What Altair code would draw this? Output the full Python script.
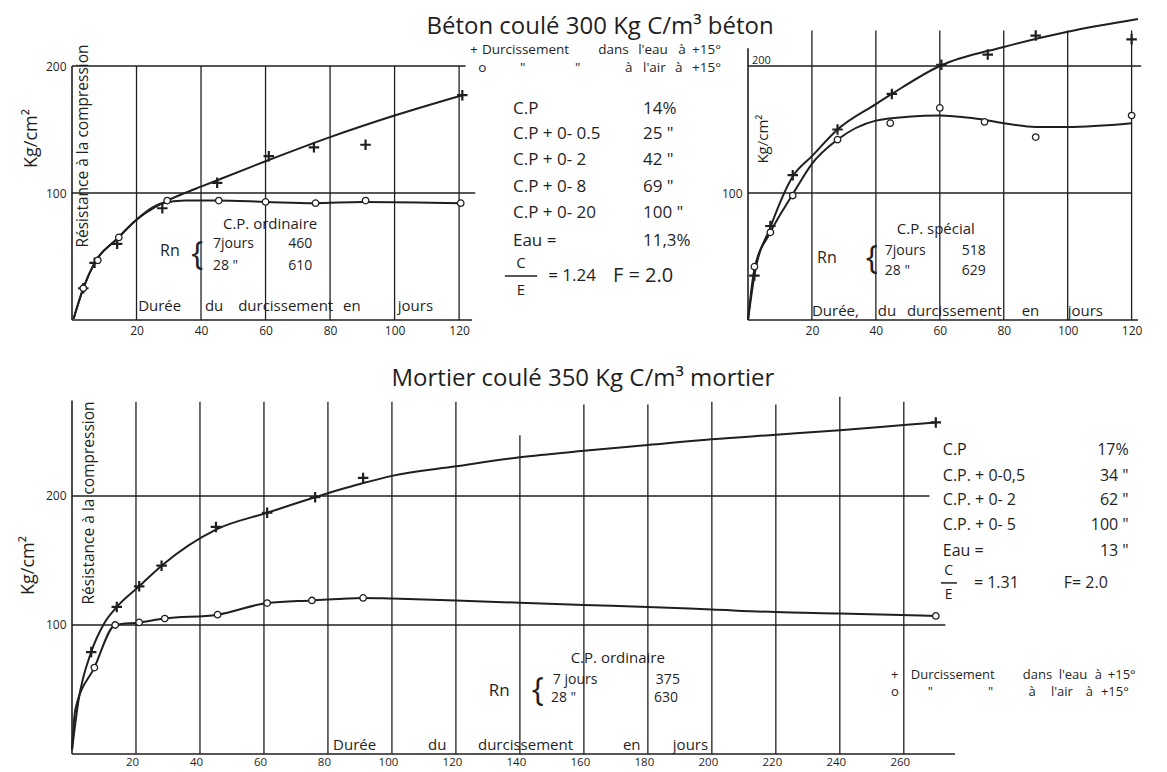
import altair as alt
import pandas as pd

FONT = "Open Sans"
INK = "#1f1f1f"

# ---------------- values ----------------
# Top left: Béton coulé, C.P. ordinaire
tl_eau_days = [3.5, 7, 14, 28, 45, 61, 75, 91, 121]
tl_eau_res = [25, 45, 60, 88, 108, 129, 136, 138, 177]
tl_air_days = [3.5, 8, 14.5, 29.5, 45.5, 60, 75.5, 91, 120.5]
tl_air_res = [25, 47, 65, 94, 94, 93, 92, 94, 92]
tl_eau_curve_days = [0.5, 3.5, 7, 14, 20, 28, 35, 40, 60, 80, 100, 121]
tl_eau_curve_res = [1, 25, 45, 64, 79, 92, 100, 105, 125, 144, 161, 177]
tl_air_curve_days = [0.5, 3.5, 7, 14, 20, 28, 35, 45, 60, 75, 90, 121]
tl_air_curve_res = [1, 25, 45, 64, 79, 92, 94, 94, 93, 92, 93, 92]

# Top right: Béton coulé, C.P. spécial
tr_eau_days = [2, 7, 14, 28, 45, 60.5, 75, 90, 120]
tr_eau_res = [35, 74, 114, 150, 178, 201, 209, 224, 221]
tr_air_days = [2, 7, 14, 28, 44.5, 60, 74, 90, 120]
tr_air_res = [42, 69, 98, 142, 155, 167, 156, 144, 161]
tr_eau_curve_days = [0, 2, 7, 14, 20, 28, 40, 45, 60, 80, 100, 122]
tr_eau_curve_res = [0, 35, 73, 113, 129, 150, 170, 178, 200, 215, 227, 237]
tr_air_curve_days = [0, 2, 7, 14, 20, 28, 40, 50, 60, 70, 80, 90, 100, 120]
tr_air_curve_res = [0, 40, 69, 99, 123, 142, 157, 160, 161, 159, 155, 152, 152, 155]

# Bottom: Mortier coulé, C.P. ordinaire
bt_eau_days = [6, 14, 21, 28, 45, 61, 76, 91, 270]
bt_eau_res = [79, 114, 130, 146, 176, 187, 199, 214, 257]
bt_air_days = [7, 13.5, 21, 29, 45.5, 61, 75, 91, 270]
bt_air_res = [67, 100, 102, 105, 108, 117, 119, 121, 107]
bt_eau_curve_days = [0, 2, 6, 10, 14, 21, 28, 45, 61, 76, 91, 100, 120, 140,
                     160, 180, 200, 220, 240, 260, 270]
bt_eau_curve_res = [3, 41, 79, 101, 114, 130, 146, 174, 187, 199, 210, 215.6,
                    223, 230, 235, 239.5, 244, 247.5, 251, 255, 257]
bt_air_curve_days = [0, 1, 7, 13.5, 21, 29, 45.5, 61, 75, 91, 100, 120, 160,
                     180, 200, 220, 240, 270]
bt_air_curve_res = [3, 34, 67, 100, 102, 105, 108, 117, 119, 121, 120.5, 119,
                    115.5, 114, 112, 110, 109, 107]

# tick labels
tl_x_ticks = [20, 40, 60, 80, 100, 120]
tl_y_ticks = [100, 200]
tr_x_ticks = [20, 40, 60, 80, 100, 120]
tr_y_ticks = [100]
bt_x_ticks = [20, 40, 60, 80, 100, 120, 140, 160, 180, 200, 220, 240, 260]
bt_y_ticks = [100, 200]

# texts
title_beton = "Béton coulé 300 Kg C/m³ béton"
title_mortier = "Mortier coulé  350 Kg C/m³  mortier"
unit = "Kg/cm²"
resistance = "Résistance à la compression"
duree_words = ["Durée", "du", "durcissement", "en", "jours"]
duree_words_tr = ["Durée,", "du", "durcissement", "en", "jours"]
legend_eau = ["+", "Durcissement", "dans", "l'eau", "à", "+15°"]
legend_air = ["o", "\"", "\"", "à", "l'air", "à", "+15°"]
tl_mix_names = ["C.P", "C.P + 0- 0.5", "C.P + 0- 2", "C.P + 0- 8", "C.P + 0- 20", "Eau ="]
tl_mix_values = ["14%", "25 \"", "42 \"", "69 \"", "100 \"", "11,3%"]
tl_ratio = ["C", "E", "= 1.24", "F = 2.0"]
bt_mix_names = ["C.P", "C.P. + 0-0,5", "C.P. + 0- 2", "C.P. + 0- 5", "Eau ="]
bt_mix_values = ["17%", "34 \"", "62 \"", "100 \"", "13 \""]
bt_ratio = ["C", "E", "= 1.31", "F=  2.0"]
tl_cement = ["C.P. ordinaire", "Rn", "{", "7jours", "460", "28  \"", "610"]
tr_cement = ["C.P. spécial", "Rn", "{", "7jours", "518", "28  \"", "629"]
bt_cement = ["C.P. ordinaire", "Rn", "{", "7 jours", "375", "28   \"", "630"]


# ---------------- helpers ----------------
def encs(xdom, ydom, xticks, yticks, xlab_off, ytitle, tx, ty, lab_pad=5, lab_size=12):
    X = alt.X("x:Q", scale=alt.Scale(domain=xdom, nice=False, zero=False),
              axis=alt.Axis(values=xticks, domain=False, ticks=False, grid=False,
                            labelPadding=lab_pad, labelOffset=xlab_off, title=None,
                            labelFontSize=lab_size, labelFont=FONT, labelColor=INK))
    Y = alt.Y("y:Q", scale=alt.Scale(domain=ydom, nice=False, zero=False),
              axis=alt.Axis(values=yticks, domain=False, ticks=False, grid=False,
                            labelPadding=6, labelFontSize=12, labelFont=FONT,
                            labelColor=INK, title=ytitle, titleX=tx, titleY=ty,
                            titleAngle=270, titleAlign="center",
                            titleBaseline="middle", titleFont=FONT,
                            titleFontSize=18, titleFontWeight="normal",
                            titleColor=INK))
    return X, Y


def rules_v(xs, y0s, y1s, X, Y, w=1.3):
    df = pd.DataFrame({"x": xs, "y": y0s, "y2": y1s})
    return alt.Chart(df).mark_rule(color=INK, strokeWidth=w).encode(x=X, y=Y, y2="y2:Q")


def rules_h(ys, x0s, x1s, X, Y, w=1.3):
    df = pd.DataFrame({"y": ys, "x": x0s, "x2": x1s})
    return alt.Chart(df).mark_rule(color=INK, strokeWidth=w).encode(y=Y, x=X, x2="x2:Q")


def curves(ex, ey, ax, ay, X, Y):
    df = pd.DataFrame({"x": ex + ax, "y": ey + ay,
                       "s": ["eau"] * len(ex) + ["air"] * len(ax)})
    return alt.Chart(df).mark_line(color=INK, strokeWidth=2, interpolate="monotone").encode(
        x=X, y=Y, detail="s:N")


def pts_eau(xs, ys, X, Y):
    df = pd.DataFrame({"x": xs, "y": ys})
    return alt.Chart(df).mark_point(shape="M-1,0L1,0M0,-1L0,1", size=110, filled=False,
                                    color=INK, strokeWidth=2.2, opacity=1).encode(x=X, y=Y)


def pts_air(xs, ys, X, Y):
    df = pd.DataFrame({"x": xs, "y": ys})
    return alt.Chart(df).mark_point(shape="circle", size=42, filled=True, fill="white",
                                    stroke=INK, strokeWidth=1.3, opacity=1).encode(x=X, y=Y)


def texts(rows, X, Y):
    df = pd.DataFrame(rows, columns=["text", "x", "y", "size", "align", "angle"])
    out = []
    for a in ["left", "center", "right"]:
        sub = df[df["align"] == a]
        if len(sub):
            out.append(alt.Chart(sub).mark_text(align=a, baseline="middle", font=FONT,
                                                color=INK).encode(
                x=X, y=Y, text="text:N",
                size=alt.Size("size:Q", scale=None),
                angle=alt.Angle("angle:Q", scale=None)))
    return out


# ---------------- top left ----------------
X1, Y1 = encs([0, 124], [0, 237.8], tl_x_ticks, tl_y_ticks, 0, unit, -41, 120)
tl_rows = [
    (title_beton, 163.7, 230.5, 24, "center", 0),
    (resistance, 3.3, 137, 15.5, "center", 270),
    (tl_cement[0], 61.4, 75.6, 15, "center", 0),
    (tl_cement[1], 27.3, 54.3, 16, "left", 0),
    (tl_cement[2], 38.8, 51.2, 32, "center", 0),
    (tl_cement[3], 43.7, 59.8, 14, "left", 0),
    (tl_cement[4], 67, 59.8, 14, "left", 0),
    (tl_cement[5], 43.7, 42.5, 14, "left", 0),
    (tl_cement[6], 67, 42.5, 14, "left", 0),
    (tl_ratio[0], 139.2, 45.2, 15, "center", 0),
    (tl_ratio[1], 139.2, 23.6, 15, "center", 0),
    (tl_ratio[2], 147.6, 34.6, 17, "left", 0),
    (tl_ratio[3], 167.7, 34.6, 20, "left", 0),
]
# legend in the middle of the top row (TL coordinates)
for w, xx in zip(legend_eau, [123.4, 127.1, 163.1, 175.5, 187.9, 192.2]):
    tl_rows.append((w, xx, 212.6, 13.5, "left", 0))
for w, xx in zip(legend_air, [125.9, 138.9, 155.9, 171.4, 177, 186.9, 192.2]):
    tl_rows.append((w, xx, 198.4, 13.5, "left", 0))
for w, xx in zip(duree_words, [20.5, 41.2, 51.5, 84, 101]):
    tl_rows.append((w, xx, 11, 15, "left", 0))
for n, v, yy in zip(tl_mix_names, tl_mix_values, [166, 146.5, 126, 104.7, 84.3, 62.2]):
    tl_rows.append((n, 136.7, yy, 17, "left", 0))
    tl_rows.append((v, 177, yy, 17, "left", 0))

tl = alt.layer(
    rules_v(tl_x_ticks, [0] * 6, [200] * 6, X1, Y1),
    rules_h([100, 200], [0, 0], [125, 122], X1, Y1),
    rules_h([0], [0], [124], X1, Y1, 1.6),
    rules_v([0], [0], [200], X1, Y1, 1.6),
    rules_h([34.6], [134.2], [144.2], X1, Y1, 1.5),
    curves(tl_eau_curve_days, tl_eau_curve_res, tl_air_curve_days, tl_air_curve_res, X1, Y1),
    pts_eau(tl_eau_days, tl_eau_res, X1, Y1),
    pts_air(tl_air_days, tl_air_res, X1, Y1),
    *texts(tl_rows, X1, Y1),
).properties(width=400, height=302)

# ---------------- top right ----------------
X2, Y2 = encs([0, 122], [0, 237.8], tr_x_ticks, tr_y_ticks, 0, None, 0, 0)
tr_rows = [
    (unit, 4.7, 142.5, 15, "center", 270),
    ("200", 1.25, 204, 11, "left", 0),
    (tr_cement[0], 58.75, 71.7, 15, "center", 0),
    (tr_cement[1], 21.6, 48.8, 16, "left", 0),
    (tr_cement[2], 38.75, 48, 32, "center", 0),
    (tr_cement[3], 42.8, 54.3, 14, "left", 0),
    (tr_cement[4], 66.9, 54.3, 14, "left", 0),
    (tr_cement[5], 42.8, 38.6, 14, "left", 0),
    (tr_cement[6], 66.9, 38.6, 14, "left", 0),
]
for w, xx in zip(duree_words_tr, [20, 40.6, 49.7, 85.6, 100]):
    tr_rows.append((w, xx, 7.1, 15, "left", 0))

tr = alt.layer(
    rules_v(tr_x_ticks, [0] * 6, [228] * 6, X2, Y2),
    rules_h([100, 200], [0, 0], [120, 123], X2, Y2),
    rules_h([0], [0], [122], X2, Y2, 1.6),
    rules_v([0], [0], [214], X2, Y2, 1.6),
    curves(tr_eau_curve_days, tr_eau_curve_res, tr_air_curve_days, tr_air_curve_res, X2, Y2),
    pts_eau(tr_eau_days, tr_eau_res, X2, Y2),
    pts_air(tr_air_days, tr_air_res, X2, Y2),
    *texts(tr_rows, X2, Y2),
).properties(width=390, height=302)

# ---------------- bottom ----------------
X3, Y3 = encs([0, 276], [0, 274.4], bt_x_ticks, bt_y_ticks, -4, unit, -44, 165,
              lab_pad=2, lab_size=11.5)
bt_rows = [
    (title_mortier, 159.7, 290.7, 24, "center", 0),
    (resistance, 5.3, 194.6, 15.5, "center", 270),
    (bt_cement[0], 170.6, 74.4, 15, "center", 0),
    (bt_cement[1], 130.3, 48.8, 17, "left", 0),
    (bt_cement[2], 145.6, 48.8, 32, "center", 0),
    (bt_cement[3], 150.3, 57.4, 14, "left", 0),
    (bt_cement[4], 182.5, 57.4, 14, "left", 0),
    (bt_cement[5], 149.7, 43.4, 14, "left", 0),
    (bt_cement[6], 181.9, 43.4, 14, "left", 0),
    (bt_ratio[0], 274, 142.2, 14, "center", 0),
    (bt_ratio[1], 274, 123.3, 14, "center", 0),
    (bt_ratio[2], 281.9, 132.6, 16, "left", 0),
    (bt_ratio[3], 310, 132.6, 16, "left", 0),
]
for w, xx in zip(legend_eau, [256, 262.2, 297.2, 308.4, 319.7, 323.75]):
    bt_rows.append((w, xx, 61.6, 13, "left", 0))
for w, xx in zip(legend_air, [256, 267.5, 286.3, 299, 306, 316.9, 321.6]):
    bt_rows.append((w, xx, 48.4, 13, "left", 0))
for w, xx in zip(duree_words, [81.6, 111.3, 126.9, 172.2, 187.8]):
    bt_rows.append((w, xx, 7, 15, "left", 0))
for n, v, yy in zip(bt_mix_names, bt_mix_values, [235.7, 215.5, 196.9, 177.5, 157.4]):
    bt_rows.append((n, 272.2, yy, 16, "left", 0))
    bt_rows.append((v, 330.3, yy, 16, "right", 0))

bt = alt.layer(
    rules_v(bt_x_ticks, [0] * 13, [273, 273, 273, 273, 273, 273, 247, 271, 271, 273, 271, 277, 273], X3, Y3),
    rules_h([100, 200], [0, 0], [273, 268], X3, Y3),
    rules_h([0], [0], [276], X3, Y3, 1.6),
    rules_v([0], [0], [274], X3, Y3, 1.6),
    rules_h([132.6], [271.6], [276.6], X3, Y3, 1.5),
    curves(bt_eau_curve_days, bt_eau_curve_res, bt_air_curve_days, bt_air_curve_res, X3, Y3),
    pts_eau(bt_eau_days, bt_eau_res, X3, Y3),
    pts_air(bt_air_days, bt_air_res, X3, Y3),
    *texts(bt_rows, X3, Y3),
).properties(width=883, height=354)

top = alt.hconcat(tl, tr, spacing=276, bounds="flush")
chart = alt.vconcat(top, bt, spacing=30).properties(
    padding={"left": 11, "top": 7, "right": 0, "bottom": 0}
).configure_view(stroke=None)

chart.save("out.html", embed_options={"renderer": "svg", "actions": False})
